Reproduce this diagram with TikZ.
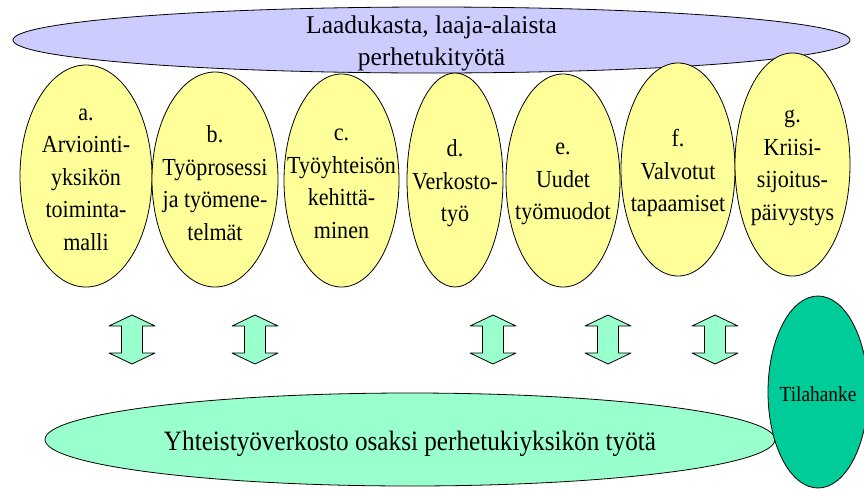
\documentclass[tikz,border=0pt]{standalone}
\usepackage{fontspec}
\setmainfont{Liberation Serif}
\newfontfamily\narrowfont{Liberation Serif}[FakeStretch=0.9]
\usetikzlibrary{shapes.geometric}
\definecolor{lilac}{HTML}{CCCCFF}
\definecolor{paleyellow}{HTML}{FFFF99}
\definecolor{mint}{HTML}{99FFCC}
\definecolor{jade}{HTML}{00CC99}
\tikzset{
  oval/.style={ellipse, draw, line width=0.8pt, inner sep=0pt},
  itemtext/.style={align=center, font=\narrowfont\fontsize{24.5}{32.5}\selectfont, yshift=-3.5pt},
  arrowbox/.style={draw, fill=mint, line width=0.8pt}
}
\begin{document}
\begin{tikzpicture}[x=1pt, y=-1pt, line join=round]
  \useasboundingbox (0,0) rectangle (864,488);
  % top goal
  \node[oval, fill=lilac, minimum width=837, minimum height=66] (goal) at (431.5,40) {};
  \node[align=center, font=\fontsize{25.5}{32}\selectfont, yshift=-3pt] (goaltext) at (goal) {Laadukasta, laaja-alaista\\perhetukityötä};
  % subprojects a--g
  \foreach \n/\cx/\cy/\ew/\eh/\lbl in {
      a/86/176/132/222/{a.\\Arviointi-\\yksikön\\toiminta-\\malli},
      b/215/179.5/126/215/{b.\\Työprosessi\\ja työmene-\\telmät},
      c/341.5/180.5/115/213/{c.\\Työyhteisön\\kehittä-\\minen},
      d/455/180/96/214/{d.\\Verkosto-\\työ},
      e/563/180.5/114/213/{e.\\Uudet\\työmuodot},
      f/678/169.5/114/213/{f.\\Valvotut\\tapaamiset},
      g/792.5/164.5/115/223/{g.\\Kriisi-\\sijoitus-\\päivystys}}
  {\node[oval, fill=paleyellow, minimum width=\ew, minimum height=\eh] (\n) at (\cx,\cy) {};
   \node[itemtext] (\n text) at (\n) {\lbl};}
  % double arrows
  \foreach \x in {132,255,493,608,715}
    \draw[arrowbox] (\x,315) -- ++(23,11) -- ++(-12.5,0) -- ++(0,27) -- ++(12.5,0) -- ++(-23,11)
      -- ++(-23,-11) -- ++(12.5,0) -- ++(0,-27) -- ++(-12.5,0) -- cycle;
  % bottom network
  \node[oval, fill=mint, minimum width=730, minimum height=93] (network) at (410,439.5) {};
  \node[font=\narrowfont\fontsize{28}{34}\selectfont, yshift=-4pt] (networktext) at (network) {Yhteistyöverkosto osaksi perhetukiyksikön työtä};
  \node[oval, fill=jade, minimum width=100, minimum height=192] (tila) at (818,392) {};
  \node[font=\narrowfont\fontsize{21.5}{26}\selectfont, yshift=-2pt] (tilatext) at (tila) {Tilahanke};
\end{tikzpicture}
\end{document}
